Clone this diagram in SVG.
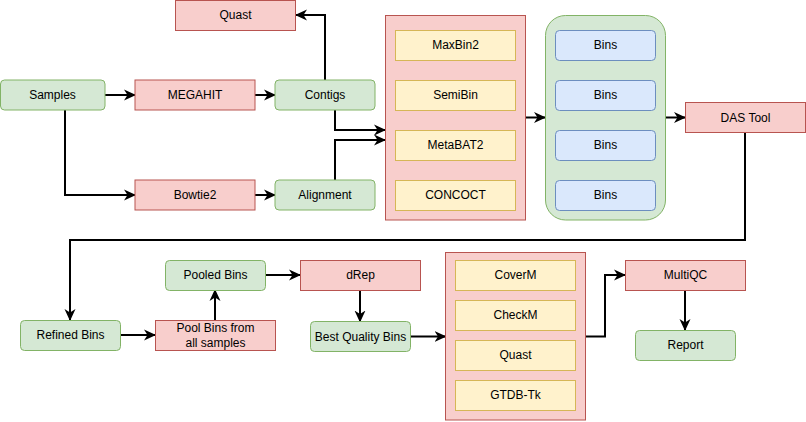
<svg xmlns="http://www.w3.org/2000/svg" width="806" height="422" viewBox="0 0 806 422">
<style>
text{font-family:"Liberation Sans",Arial,Helvetica,sans-serif;font-size:12px;fill:#000;text-anchor:middle;dominant-baseline:central}
.g{fill:#d5e8d4;stroke:#82b366;stroke-width:1}
.r{fill:#f8cecc;stroke:#b85450;stroke-width:1}
.y{fill:#fff2cc;stroke:#d6b656;stroke-width:1}
.b{fill:#dae8fc;stroke:#6c8ebf;stroke-width:1}
.e{fill:none;stroke:#000;stroke-width:2;marker-end:url(#ah)}
.n{fill:none;stroke:#000;stroke-width:2}
</style>
<defs>
<marker id="ah" markerUnits="userSpaceOnUse" markerWidth="12" markerHeight="12" viewBox="0 0 12 12" refX="11" refY="6" orient="auto">
<path d="M0,0.5 L12,6 L0,11.5 L3.5,6 Z" fill="#000"/>
</marker>
</defs>
<rect width="806" height="422" fill="#fff"/>
<g id="connectors">
<path class="e" d="M105,95 H135"/>
<path class="e" d="M255,95 H275"/>
<path class="e" d="M65,110 V195 H135"/>
<path class="e" d="M255,195 H275"/>
<path class="e" d="M325,80 V15 H296"/>
<path class="e" d="M335,110 V130 H385"/>
<path class="e" d="M335,180 V140 H385"/>
<path class="e" d="M525,117.5 H545"/>
<path class="e" d="M665,117.5 H685"/>
<path class="e" d="M745,133 V240 H70 V320"/>
<path class="e" d="M120,335 H155"/>
<path class="e" d="M215,320 V290"/>
<path class="e" d="M265,275 H300"/>
<path class="e" d="M360,290 V321.5"/>
<path class="e" d="M410,336.5 H445.5"/>
<path class="e" d="M585.5,336.5 H605 V275 H625"/>
<path class="e" d="M685,290 V330"/>
</g>
<g id="samples"><rect class="g" x="0.5" y="80" width="104.5" height="30" rx="4"/><text x="52.5" y="95">Samples</text></g>
<g id="megahit"><rect class="r" x="135" y="80" width="120" height="30"/><text x="195" y="95">MEGAHIT</text></g>
<g id="contigs"><rect class="g" x="275" y="80" width="100" height="30" rx="4"/><text x="325" y="95">Contigs</text></g>
<g id="quast1"><rect class="r" x="175.5" y="0.5" width="120" height="30"/><text x="235.5" y="15">Quast</text></g>
<g id="bowtie2"><rect class="r" x="135" y="180" width="120" height="30"/><text x="195" y="195">Bowtie2</text></g>
<g id="alignment"><rect class="g" x="275" y="180" width="100" height="30" rx="4"/><text x="325" y="195">Alignment</text></g>
<g id="binners">
<rect class="r" x="385.5" y="15.5" width="140" height="204.5"/>
<rect class="y" x="395.5" y="30.5" width="120" height="30"/><text x="455.5" y="45">MaxBin2</text>
<rect class="y" x="395.5" y="80.5" width="120" height="30"/><text x="455.5" y="95">SemiBin</text>
<rect class="y" x="395.5" y="130.5" width="120" height="30"/><text x="455.5" y="145">MetaBAT2</text>
<rect class="y" x="395.5" y="180.5" width="120" height="30"/><text x="455.5" y="195">CONCOCT</text>
</g>
<g id="bins">
<rect class="g" x="545.5" y="15.5" width="120" height="204.5" rx="20"/>
<rect class="b" x="555.5" y="30.5" width="100" height="30" rx="4"/><text x="605.5" y="45">Bins</text>
<rect class="b" x="555.5" y="80.5" width="100" height="30" rx="4"/><text x="605.5" y="95">Bins</text>
<rect class="b" x="555.5" y="130.5" width="100" height="30" rx="4"/><text x="605.5" y="145">Bins</text>
<rect class="b" x="555.5" y="180.5" width="100" height="30" rx="4"/><text x="605.5" y="195">Bins</text>
</g>
<g id="dastool"><rect class="r" x="685.5" y="102.5" width="120" height="30"/><text x="745.5" y="117.5">DAS Tool</text></g>
<g id="refined"><rect class="g" x="20.5" y="320.5" width="100" height="30" rx="4"/><text x="70.5" y="335">Refined Bins</text></g>
<g id="pool"><rect class="r" x="155.5" y="320.5" width="120" height="30"/><text x="215.5" y="328">Pool Bins from</text><text x="215.5" y="343">all samples</text></g>
<g id="pooled"><rect class="g" x="165.5" y="260.5" width="100" height="30" rx="4"/><text x="215.5" y="275">Pooled Bins</text></g>
<g id="drep"><rect class="r" x="300.5" y="260.5" width="120" height="30"/><text x="360.5" y="275">dRep</text></g>
<g id="bestquality"><rect class="g" x="310.5" y="321.5" width="100" height="30" rx="4"/><text x="360.5" y="336.5">Best Quality Bins</text></g>
<g id="qc">
<rect class="r" x="445.5" y="252.5" width="140" height="167.5"/>
<rect class="y" x="455.5" y="260.5" width="120" height="30"/><text x="515.5" y="275">CoverM</text>
<rect class="y" x="455.5" y="300.5" width="120" height="30"/><text x="515.5" y="315">CheckM</text>
<rect class="y" x="455.5" y="340.5" width="120" height="30"/><text x="515.5" y="355">Quast</text>
<rect class="y" x="455.5" y="380.5" width="120" height="30"/><text x="515.5" y="395">GTDB-Tk</text>
</g>
<g id="multiqc"><rect class="r" x="625.5" y="260.5" width="120" height="30"/><text x="685.5" y="275">MultiQC</text></g>
<g id="report"><rect class="g" x="635.5" y="330.5" width="100" height="30" rx="4"/><text x="685.5" y="345">Report</text></g>
</svg>
